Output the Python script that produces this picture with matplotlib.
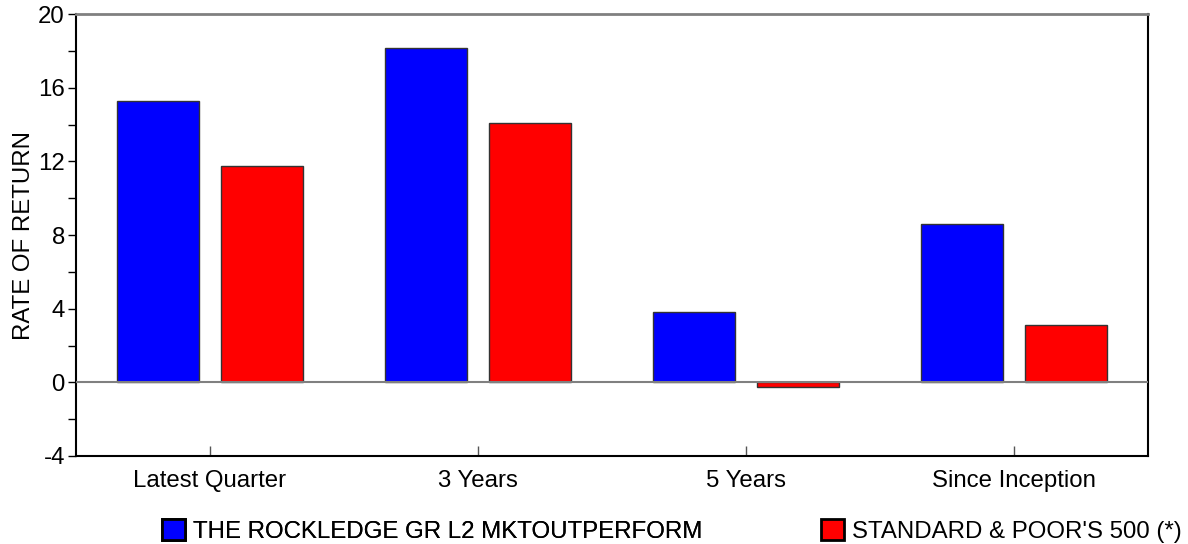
import matplotlib.pyplot as plt
from matplotlib.patches import Patch
import numpy as np

plt.rcParams["font.family"] = ["Liberation Sans", "DejaVu Sans"]

categories = ["Latest Quarter", "3 Years", "5 Years", "Since Inception"]
fund_name = "THE ROCKLEDGE GR L2 MKTOUTPERFORM"
index_name = "STANDARD & POOR'S 500 (*)"
fund_returns = [15.26, 18.13, 3.80, 8.58]
index_returns = [11.73, 14.06, -0.28, 3.09]

fs = 17.3

fig = plt.figure(figsize=(11.88, 5.44), dpi=100)
ax = fig.add_axes([76 / 1188, 1 - 456 / 544, (1148 - 76) / 1188, (456 - 14) / 544])

x = np.arange(len(categories))
bar_w = 0.305
off = 0.195
ax.bar(x - off, fund_returns, width=bar_w, color="#0000ff", edgecolor="#333333", linewidth=1, zorder=2)
ax.bar(x + off, index_returns, width=bar_w, color="#ff0000", edgecolor="#333333", linewidth=1, zorder=2)

# 零线
ax.axhline(0, color="#808080", linewidth=1.5, zorder=3)

ax.set_xlim(-0.5, len(categories) - 0.5)
ax.set_ylim(-4, 20)
ax.set_yticks(np.arange(-4, 21, 4))
ax.set_yticklabels([str(v) for v in range(-4, 21, 4)])
ax.set_yticks(np.arange(-2, 20, 4), minor=True)
ax.set_xticks(x)
ax.set_xticklabels(categories)

ax.tick_params(axis="y", which="both", direction="out", length=6, width=1, labelsize=fs, pad=2)
ax.tick_params(axis="x", direction="in", length=7, width=1, color="#555555", labelsize=fs, pad=10)

for side in ["left", "bottom", "right"]:
    ax.spines[side].set_color("black")
    ax.spines[side].set_linewidth(1.5)
ax.spines["top"].set_color("#808080")
ax.spines["top"].set_linewidth(2)

ax.set_ylabel("RATE OF RETURN", fontsize=fs, labelpad=2)

# 图例，两个分开放
leg_kw = dict(loc="center left", frameon=False, fontsize=fs, handlelength=0.95, handleheight=0.95,
              handletextpad=0.35, borderpad=0, borderaxespad=0)
leg1 = fig.legend(handles=[Patch(facecolor="#0000ff", edgecolor="black", linewidth=2, label=fund_name)],
                  bbox_to_anchor=(162 / 1188, 13 / 544), **leg_kw)
leg2 = fig.legend(handles=[Patch(facecolor="#ff0000", edgecolor="black", linewidth=2, label=index_name)],
                  bbox_to_anchor=(821 / 1188, 13 / 544), **leg_kw)
fig.add_artist(leg1)

fig.savefig("out.png", dpi=100)
